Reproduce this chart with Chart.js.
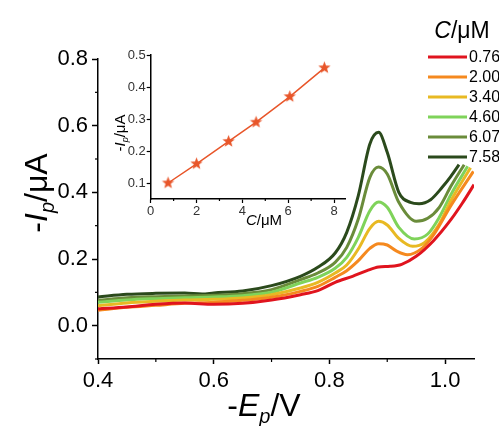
<!DOCTYPE html>
<html>
<head>
<meta charset="utf-8">
<script src="https://cdn.jsdelivr.net/npm/chart.js@4.4.1/dist/chart.umd.min.js"></script>
<style>
  html, body { margin: 0; padding: 0; background: #fff; }
  #wrap { position: relative; width: 499px; height: 426px; }
  #main { position: absolute; left: 0; top: 0; }
  #inset { position: absolute; left: 100px; top: 40px; }
</style>
</head>
<body>
<div id="wrap">
  <canvas id="main" width="499" height="426"></canvas>
  <canvas id="inset" width="260" height="195"></canvas>
</div>
<script>
// legend entries (C / uM) and line colours
const concLabels = ['0.76', '2.00', '3.40', '4.60', '6.07', '7.58'];
const lineColors = ['#e0141e', '#f5891f', '#e8b923', '#7fd35a', '#6a8c3a', '#2b4a1c'];

// voltammograms: -E (V) and -I (uA)
const e076 = [0.40, 0.45, 0.50, 0.55, 0.60, 0.65, 0.70, 0.75, 0.78, 0.81, 0.84, 0.865, 0.885, 0.905, 0.925, 0.95, 0.98, 1.01, 1.03, 1.05];
const i076 = [0.050, 0.056, 0.064, 0.068, 0.064, 0.067, 0.077, 0.093, 0.105, 0.130, 0.148, 0.165, 0.176, 0.178, 0.184, 0.208, 0.255, 0.318, 0.368, 0.423];

const e200 = [0.40, 0.45, 0.50, 0.55, 0.60, 0.65, 0.70, 0.75, 0.78, 0.81, 0.83, 0.85, 0.87, 0.885, 0.90, 0.915, 0.935, 0.96, 0.98, 1.01, 1.049];
const i200 = [0.046, 0.055, 0.061, 0.067, 0.070, 0.076, 0.085, 0.103, 0.118, 0.145, 0.165, 0.195, 0.232, 0.246, 0.242, 0.225, 0.213, 0.232, 0.272, 0.360, 0.463];

const e340 = [0.40, 0.45, 0.50, 0.55, 0.60, 0.65, 0.70, 0.75, 0.78, 0.81, 0.83, 0.85, 0.87, 0.885, 0.90, 0.92, 0.944, 0.965, 0.99, 1.01, 1.044];
const i340 = [0.060, 0.068, 0.073, 0.077, 0.079, 0.083, 0.093, 0.113, 0.130, 0.158, 0.182, 0.230, 0.292, 0.313, 0.302, 0.262, 0.238, 0.250, 0.305, 0.375, 0.474];

const e460 = [0.40, 0.45, 0.50, 0.55, 0.60, 0.65, 0.70, 0.75, 0.78, 0.81, 0.83, 0.85, 0.87, 0.885, 0.90, 0.92, 0.947, 0.97, 0.99, 1.01, 1.039];
const i460 = [0.070, 0.077, 0.081, 0.084, 0.086, 0.090, 0.100, 0.128, 0.145, 0.172, 0.205, 0.265, 0.345, 0.371, 0.355, 0.295, 0.260, 0.275, 0.325, 0.393, 0.478];

const e607 = [0.40, 0.45, 0.50, 0.55, 0.60, 0.65, 0.70, 0.75, 0.78, 0.81, 0.83, 0.85, 0.87, 0.885, 0.90, 0.92, 0.95, 0.97, 0.99, 1.01, 1.033];
const i607 = [0.076, 0.084, 0.087, 0.089, 0.091, 0.096, 0.108, 0.138, 0.158, 0.190, 0.235, 0.320, 0.445, 0.476, 0.455, 0.370, 0.313, 0.322, 0.355, 0.418, 0.483];

const e758 = [0.40, 0.45, 0.50, 0.55, 0.58, 0.60, 0.65, 0.70, 0.75, 0.78, 0.81, 0.83, 0.85, 0.87, 0.885, 0.90, 0.92, 0.94, 0.955, 0.975, 0.995, 1.01, 1.024];
const i758 = [0.086, 0.094, 0.097, 0.098, 0.095, 0.098, 0.104, 0.120, 0.148, 0.175, 0.218, 0.280, 0.390, 0.545, 0.580, 0.520, 0.400, 0.370, 0.366, 0.378, 0.415, 0.448, 0.483];

// calibration inset: peak current vs concentration
const concVals = [0.76, 2.00, 3.40, 4.60, 6.07, 7.58];
const peakVals = [0.10, 0.16, 0.23, 0.29, 0.37, 0.46];

// tick labels
const xTicks = [0.4, 0.6, 0.8, 1.0];
const yTicks = [0.0, 0.2, 0.4, 0.6, 0.8];
const xMinor = [0.5, 0.7, 0.9];
const yMinor = [-0.1, 0.1, 0.3, 0.5, 0.7];
const insetXTicks = [0, 2, 4, 6, 8];
const insetYTicks = [0.1, 0.2, 0.3, 0.4, 0.5];
const insetXMinor = [1, 3, 5, 7];

const FONT = '"Liberation Sans", Arial, sans-serif';

function pairs(xs, ys) {
  return xs.map((x, k) => ({ x: x, y: ys[k] }));
}

// text with italic / subscript pieces, centred on (x, y)
function drawRich(ctx, parts, size, x, y, rotate) {
  ctx.save();
  ctx.translate(x, y);
  if (rotate) ctx.rotate(-Math.PI / 2);
  const fontOf = p => (p[1] ? 'italic ' : '') + Math.round(p[2] ? size * 0.62 : size) + 'px ' + FONT;
  let w = 0;
  parts.forEach(p => { ctx.font = fontOf(p); w += ctx.measureText(p[0]).width; });
  let cx = -w / 2;
  ctx.fillStyle = '#000';
  ctx.textBaseline = 'alphabetic';
  ctx.textAlign = 'left';
  parts.forEach(p => {
    ctx.font = fontOf(p);
    ctx.fillText(p[0], cx, p[2] ? size * 0.22 : 0);
    cx += ctx.measureText(p[0]).width;
  });
  ctx.restore();
}

const minorTicks = {
  id: 'minorTicks',
  afterDraw(chart, args, opts) {
    const ctx = chart.ctx;
    const xs = chart.scales.x, ys = chart.scales.y;
    ctx.save();
    ctx.strokeStyle = '#000';
    ctx.lineWidth = 1.2;
    (opts.x || []).forEach(v => {
      const px = xs.getPixelForValue(v);
      ctx.beginPath(); ctx.moveTo(px, xs.top); ctx.lineTo(px, xs.top + opts.len); ctx.stroke();
    });
    (opts.y || []).forEach(v => {
      const py = ys.getPixelForValue(v);
      ctx.beginPath(); ctx.moveTo(ys.right, py); ctx.lineTo(ys.right - opts.len, py); ctx.stroke();
    });
    ctx.restore();
  }
};

const axisTitles = {
  id: 'axisTitles',
  afterDraw(chart, args, opts) {
    (opts.items || []).forEach(t => drawRich(chart.ctx, t.parts, t.size, t.x, t.y, t.rotate));
  }
};

const lineLegend = {
  id: 'lineLegend',
  afterDraw(chart, args, opts) {
    if (!opts.show) return;
    const ctx = chart.ctx;
    drawRich(ctx, [['C', true], ['/\u03bcM', false]], 23, 462, 38, false);
    ctx.save();
    ctx.font = '16px ' + FONT;
    ctx.textBaseline = 'middle';
    ctx.fillStyle = '#000';
    chart.data.datasets.forEach((ds, k) => {
      const y = 57 + k * 20;
      ctx.strokeStyle = ds.borderColor;
      ctx.lineWidth = 3;
      ctx.beginPath(); ctx.moveTo(428, y); ctx.lineTo(467, y); ctx.stroke();
      ctx.fillText(ds.label, 469, y + 1);
    });
    ctx.restore();
  }
};

const series = [[e076, i076], [e200, i200], [e340, i340], [e460, i460], [e607, i607], [e758, i758]];

new Chart(document.getElementById('main'), {
  type: 'line',
  data: {
    datasets: series.map((s, k) => ({
      label: concLabels[k],
      data: pairs(s[0], s[1]),
      borderColor: lineColors[k],
      borderWidth: 3,
      pointRadius: 0,
      fill: false,
      cubicInterpolationMode: 'monotone'
    }))
  },
  options: {
    responsive: false,
    animation: false,
    layout: { padding: { left: 0, top: 59, right: 25, bottom: 0 } },
    scales: {
      x: {
        type: 'linear',
        min: 0.4,
        max: 1.05,
        afterBuildTicks: s => { s.ticks = xTicks.map(v => ({ value: v })); },
        afterFit: s => { s.height = 67; },
        ticks: { color: '#000', font: { size: 22, family: FONT }, padding: 4, callback: v => v.toFixed(1) },
        grid: { drawOnChartArea: false, drawTicks: true, tickLength: 5, color: '#000', tickWidth: 1.5 },
        border: { color: '#000', width: 1.5 }
      },
      y: {
        type: 'linear',
        min: -0.1,
        max: 0.8,
        afterBuildTicks: s => { s.ticks = yTicks.map(v => ({ value: v })); },
        afterFit: s => { s.width = 98; },
        ticks: { color: '#000', font: { size: 22, family: FONT }, padding: 4, callback: v => v.toFixed(1) },
        grid: { drawOnChartArea: false, drawTicks: true, tickLength: 6, color: '#000', tickWidth: 1.5 },
        border: { color: '#000', width: 1.5 }
      }
    },
    plugins: {
      legend: { display: false },
      tooltip: { enabled: false },
      minorTicks: { x: xMinor, y: yMinor, len: 3 },
      lineLegend: { show: true },
      axisTitles: {
        items: [
          { parts: [['-', false], ['E', true], ['p', true, true], ['/V', false]], size: 32, x: 264, y: 416 },
          { parts: [['-', false], ['I', true], ['p', true, true], ['/\u03bcA', false]], size: 32, x: 47, y: 193, rotate: true }
        ]
      }
    }
  },
  plugins: [minorTicks, lineLegend, axisTitles]
});

// filled five-point star marker
function starMarker(r, color) {
  const c = document.createElement('canvas');
  c.width = c.height = Math.ceil(r * 2 + 2);
  const g = c.getContext('2d');
  const m = c.width / 2;
  g.beginPath();
  for (let k = 0; k < 10; k++) {
    const rr = k % 2 ? r * 0.42 : r;
    const a = -Math.PI / 2 + k * Math.PI / 5;
    g.lineTo(m + rr * Math.cos(a), m + rr * Math.sin(a));
  }
  g.closePath();
  g.fillStyle = color;
  g.fill();
  return c;
}

const insetColor = '#e8562a';

new Chart(document.getElementById('inset'), {
  type: 'line',
  data: {
    datasets: [{
      data: pairs(concVals, peakVals),
      borderColor: insetColor,
      borderWidth: 1.5,
      pointStyle: starMarker(6.5, insetColor),
      pointRadius: 6,
      tension: 0
    }]
  },
  options: {
    responsive: false,
    animation: false,
    layout: { padding: { left: 0, top: 15, right: 14.5, bottom: 0 } },
    scales: {
      x: {
        type: 'linear',
        min: 0,
        max: 8.5,
        afterBuildTicks: s => { s.ticks = insetXTicks.map(v => ({ value: v })); },
        afterFit: s => { s.height = 36; },
        ticks: { color: '#333', font: { size: 13, family: FONT }, padding: 1 },
        grid: { drawOnChartArea: false, drawTicks: true, tickLength: 4, color: '#000', tickWidth: 1.2 },
        border: { color: '#000', width: 1.5 }
      },
      y: {
        type: 'linear',
        min: 0.05,
        max: 0.5,
        afterBuildTicks: s => { s.ticks = insetYTicks.map(v => ({ value: v })); },
        afterFit: s => { s.width = 50.7; },
        ticks: { color: '#333', font: { size: 13, family: FONT }, padding: 1, callback: v => v.toFixed(1) },
        grid: { drawOnChartArea: false, drawTicks: true, tickLength: 4, color: '#000', tickWidth: 1.2 },
        border: { color: '#000', width: 1.5 }
      }
    },
    plugins: {
      legend: { display: false },
      tooltip: { enabled: false },
      minorTicks: { x: insetXMinor, y: [], len: 2 },
      axisTitles: {
        items: [
          { parts: [['C', true], ['/\u03bcM', false]], size: 15, x: 164, y: 185 },
          { parts: [['-', false], ['I', true], ['p', true, true], ['/\u03bcA', false]], size: 15, x: 25, y: 93, rotate: true }
        ]
      }
    }
  },
  plugins: [minorTicks, axisTitles]
});
</script>
</body>
</html>
